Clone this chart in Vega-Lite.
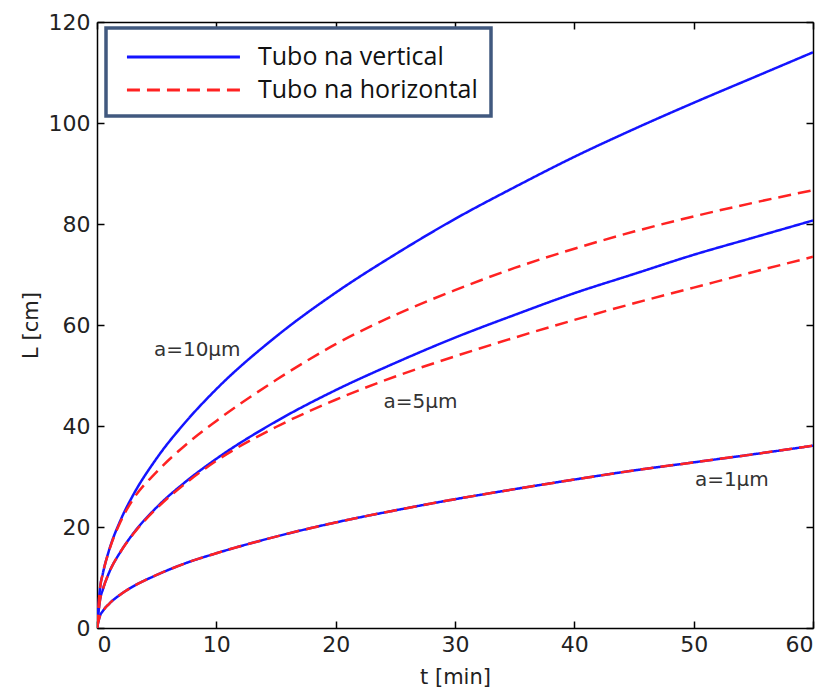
{
  "$schema": "https://vega.github.io/schema/vega-lite/v6.json",
  "width": 716,
  "height": 606,
  "autosize": {"type": "none"},
  "padding": {"left": 97, "top": 22, "right": 18, "bottom": 64},
  "background": "white",
  "config": {
    "view": {"stroke": null},
    "axis": {
      "grid": false,
      "domainColor": "#000000",
      "domainWidth": 1.5,
      "tickColor": "#000000",
      "tickWidth": 1.5,
      "tickSize": -7,
      "labelFont": "DejaVu Sans",
      "labelFontSize": 22,
      "labelColor": "#222222",
      "titleFont": "DejaVu Sans",
      "titleFontSize": 21,
      "titleFontWeight": "normal",
      "titleColor": "#222222"
    },
    "legend": {
      "strokeColor": "#41597f",
      "strokeWidth": 3.5,
      "fillColor": "white"
    }
  },
  "layer": [
    {
      "data": {
        "values": [
          {"t": 0, "L": 0, "tubo": "Tubo na vertical", "a": "10"},
          {"t": 0.25, "L": 7.8, "tubo": "Tubo na vertical", "a": "10"},
          {"t": 0.5, "L": 10.9, "tubo": "Tubo na vertical", "a": "10"},
          {"t": 1, "L": 15.3, "tubo": "Tubo na vertical", "a": "10"},
          {"t": 2, "L": 21.5, "tubo": "Tubo na vertical", "a": "10"},
          {"t": 3, "L": 26.2, "tubo": "Tubo na vertical", "a": "10"},
          {"t": 5, "L": 33.6, "tubo": "Tubo na vertical", "a": "10"},
          {"t": 7.5, "L": 41, "tubo": "Tubo na vertical", "a": "10"},
          {"t": 10, "L": 47.3, "tubo": "Tubo na vertical", "a": "10"},
          {"t": 15, "L": 57.7, "tubo": "Tubo na vertical", "a": "10"},
          {"t": 20, "L": 66.4, "tubo": "Tubo na vertical", "a": "10"},
          {"t": 25, "L": 74, "tubo": "Tubo na vertical", "a": "10"},
          {"t": 30, "L": 81, "tubo": "Tubo na vertical", "a": "10"},
          {"t": 35, "L": 87.3, "tubo": "Tubo na vertical", "a": "10"},
          {"t": 40, "L": 93.3, "tubo": "Tubo na vertical", "a": "10"},
          {"t": 45, "L": 98.8, "tubo": "Tubo na vertical", "a": "10"},
          {"t": 50, "L": 104, "tubo": "Tubo na vertical", "a": "10"},
          {"t": 55, "L": 109, "tubo": "Tubo na vertical", "a": "10"},
          {"t": 60, "L": 114, "tubo": "Tubo na vertical", "a": "10"},

          {"t": 0, "L": 0, "tubo": "Tubo na vertical", "a": "5"},
          {"t": 0.25, "L": 5.5, "tubo": "Tubo na vertical", "a": "5"},
          {"t": 0.5, "L": 7.7, "tubo": "Tubo na vertical", "a": "5"},
          {"t": 1, "L": 10.9, "tubo": "Tubo na vertical", "a": "5"},
          {"t": 2, "L": 15.2, "tubo": "Tubo na vertical", "a": "5"},
          {"t": 3, "L": 18.6, "tubo": "Tubo na vertical", "a": "5"},
          {"t": 5, "L": 23.9, "tubo": "Tubo na vertical", "a": "5"},
          {"t": 7.5, "L": 29.1, "tubo": "Tubo na vertical", "a": "5"},
          {"t": 10, "L": 33.5, "tubo": "Tubo na vertical", "a": "5"},
          {"t": 15, "L": 40.9, "tubo": "Tubo na vertical", "a": "5"},
          {"t": 20, "L": 47.1, "tubo": "Tubo na vertical", "a": "5"},
          {"t": 25, "L": 52.5, "tubo": "Tubo na vertical", "a": "5"},
          {"t": 30, "L": 57.5, "tubo": "Tubo na vertical", "a": "5"},
          {"t": 35, "L": 62, "tubo": "Tubo na vertical", "a": "5"},
          {"t": 40, "L": 66.3, "tubo": "Tubo na vertical", "a": "5"},
          {"t": 45, "L": 70.1, "tubo": "Tubo na vertical", "a": "5"},
          {"t": 50, "L": 73.9, "tubo": "Tubo na vertical", "a": "5"},
          {"t": 55, "L": 77.3, "tubo": "Tubo na vertical", "a": "5"},
          {"t": 60, "L": 80.7, "tubo": "Tubo na vertical", "a": "5"},

          {"t": 0, "L": 0, "tubo": "Tubo na vertical", "a": "1"},
          {"t": 0.25, "L": 2.4, "tubo": "Tubo na vertical", "a": "1"},
          {"t": 0.5, "L": 3.4, "tubo": "Tubo na vertical", "a": "1"},
          {"t": 1, "L": 4.75, "tubo": "Tubo na vertical", "a": "1"},
          {"t": 2, "L": 6.7, "tubo": "Tubo na vertical", "a": "1"},
          {"t": 3, "L": 8.2, "tubo": "Tubo na vertical", "a": "1"},
          {"t": 5, "L": 10.5, "tubo": "Tubo na vertical", "a": "1"},
          {"t": 7.5, "L": 12.9, "tubo": "Tubo na vertical", "a": "1"},
          {"t": 10, "L": 14.8, "tubo": "Tubo na vertical", "a": "1"},
          {"t": 15, "L": 18.1, "tubo": "Tubo na vertical", "a": "1"},
          {"t": 20, "L": 20.9, "tubo": "Tubo na vertical", "a": "1"},
          {"t": 25, "L": 23.3, "tubo": "Tubo na vertical", "a": "1"},
          {"t": 30, "L": 25.5, "tubo": "Tubo na vertical", "a": "1"},
          {"t": 35, "L": 27.5, "tubo": "Tubo na vertical", "a": "1"},
          {"t": 40, "L": 29.4, "tubo": "Tubo na vertical", "a": "1"},
          {"t": 45, "L": 31.2, "tubo": "Tubo na vertical", "a": "1"},
          {"t": 50, "L": 32.8, "tubo": "Tubo na vertical", "a": "1"},
          {"t": 55, "L": 34.4, "tubo": "Tubo na vertical", "a": "1"},
          {"t": 60, "L": 36.1, "tubo": "Tubo na vertical", "a": "1"},

          {"t": 0, "L": 0, "tubo": "Tubo na horizontal", "a": "10"},
          {"t": 0.25, "L": 7.8, "tubo": "Tubo na horizontal", "a": "10"},
          {"t": 0.5, "L": 10.9, "tubo": "Tubo na horizontal", "a": "10"},
          {"t": 1, "L": 15.2, "tubo": "Tubo na horizontal", "a": "10"},
          {"t": 2, "L": 21.2, "tubo": "Tubo na horizontal", "a": "10"},
          {"t": 3, "L": 25.4, "tubo": "Tubo na horizontal", "a": "10"},
          {"t": 5, "L": 30.9, "tubo": "Tubo na horizontal", "a": "10"},
          {"t": 7.5, "L": 36.4, "tubo": "Tubo na horizontal", "a": "10"},
          {"t": 10, "L": 41, "tubo": "Tubo na horizontal", "a": "10"},
          {"t": 15, "L": 49.1, "tubo": "Tubo na horizontal", "a": "10"},
          {"t": 20, "L": 56.2, "tubo": "Tubo na horizontal", "a": "10"},
          {"t": 25, "L": 62, "tubo": "Tubo na horizontal", "a": "10"},
          {"t": 30, "L": 66.9, "tubo": "Tubo na horizontal", "a": "10"},
          {"t": 35, "L": 71.3, "tubo": "Tubo na horizontal", "a": "10"},
          {"t": 40, "L": 75.1, "tubo": "Tubo na horizontal", "a": "10"},
          {"t": 45, "L": 78.5, "tubo": "Tubo na horizontal", "a": "10"},
          {"t": 50, "L": 81.5, "tubo": "Tubo na horizontal", "a": "10"},
          {"t": 55, "L": 84.2, "tubo": "Tubo na horizontal", "a": "10"},
          {"t": 60, "L": 86.7, "tubo": "Tubo na horizontal", "a": "10"},

          {"t": 0, "L": 0, "tubo": "Tubo na horizontal", "a": "5"},
          {"t": 0.25, "L": 5.5, "tubo": "Tubo na horizontal", "a": "5"},
          {"t": 0.5, "L": 7.7, "tubo": "Tubo na horizontal", "a": "5"},
          {"t": 1, "L": 10.9, "tubo": "Tubo na horizontal", "a": "5"},
          {"t": 2, "L": 15.2, "tubo": "Tubo na horizontal", "a": "5"},
          {"t": 3, "L": 18.5, "tubo": "Tubo na horizontal", "a": "5"},
          {"t": 5, "L": 23.7, "tubo": "Tubo na horizontal", "a": "5"},
          {"t": 7.5, "L": 28.8, "tubo": "Tubo na horizontal", "a": "5"},
          {"t": 10, "L": 33.1, "tubo": "Tubo na horizontal", "a": "5"},
          {"t": 15, "L": 39.8, "tubo": "Tubo na horizontal", "a": "5"},
          {"t": 20, "L": 45.2, "tubo": "Tubo na horizontal", "a": "5"},
          {"t": 25, "L": 49.8, "tubo": "Tubo na horizontal", "a": "5"},
          {"t": 30, "L": 53.8, "tubo": "Tubo na horizontal", "a": "5"},
          {"t": 35, "L": 57.5, "tubo": "Tubo na horizontal", "a": "5"},
          {"t": 40, "L": 61, "tubo": "Tubo na horizontal", "a": "5"},
          {"t": 45, "L": 64.3, "tubo": "Tubo na horizontal", "a": "5"},
          {"t": 50, "L": 67.4, "tubo": "Tubo na horizontal", "a": "5"},
          {"t": 55, "L": 70.5, "tubo": "Tubo na horizontal", "a": "5"},
          {"t": 60, "L": 73.5, "tubo": "Tubo na horizontal", "a": "5"},

          {"t": 0, "L": 0, "tubo": "Tubo na horizontal", "a": "1"},
          {"t": 0.25, "L": 2.4, "tubo": "Tubo na horizontal", "a": "1"},
          {"t": 0.5, "L": 3.4, "tubo": "Tubo na horizontal", "a": "1"},
          {"t": 1, "L": 4.75, "tubo": "Tubo na horizontal", "a": "1"},
          {"t": 2, "L": 6.7, "tubo": "Tubo na horizontal", "a": "1"},
          {"t": 3, "L": 8.2, "tubo": "Tubo na horizontal", "a": "1"},
          {"t": 5, "L": 10.5, "tubo": "Tubo na horizontal", "a": "1"},
          {"t": 7.5, "L": 12.9, "tubo": "Tubo na horizontal", "a": "1"},
          {"t": 10, "L": 14.8, "tubo": "Tubo na horizontal", "a": "1"},
          {"t": 15, "L": 18.1, "tubo": "Tubo na horizontal", "a": "1"},
          {"t": 20, "L": 20.9, "tubo": "Tubo na horizontal", "a": "1"},
          {"t": 25, "L": 23.3, "tubo": "Tubo na horizontal", "a": "1"},
          {"t": 30, "L": 25.5, "tubo": "Tubo na horizontal", "a": "1"},
          {"t": 35, "L": 27.5, "tubo": "Tubo na horizontal", "a": "1"},
          {"t": 40, "L": 29.4, "tubo": "Tubo na horizontal", "a": "1"},
          {"t": 45, "L": 31.2, "tubo": "Tubo na horizontal", "a": "1"},
          {"t": 50, "L": 32.8, "tubo": "Tubo na horizontal", "a": "1"},
          {"t": 55, "L": 34.4, "tubo": "Tubo na horizontal", "a": "1"},
          {"t": 60, "L": 36.1, "tubo": "Tubo na horizontal", "a": "1"}
        ]
      },
      "mark": {"type": "line", "strokeWidth": 2.5, "interpolate": "monotone", "clip": true},
      "encoding": {
        "x": {
          "field": "t", "type": "quantitative",
          "scale": {"domain": [0, 60], "nice": false, "zero": true},
          "axis": {"orient": "bottom", "values": [0, 10, 20, 30, 40, 50, 60], "title": "t [min]", "labelPadding": 13, "titlePadding": 11}
        },
        "y": {
          "field": "L", "type": "quantitative",
          "scale": {"domain": [0, 120], "nice": false},
          "axis": {"orient": "left", "values": [0, 20, 40, 60, 80, 100, 120], "title": "L [cm]", "labelPadding": 14, "titlePadding": 7}
        },
        "color": {
          "field": "tubo", "type": "nominal",
          "scale": {"domain": ["Tubo na vertical", "Tubo na horizontal"], "range": ["#1414ff", "#ff2222"]},
          "legend": {
            "title": null, "orient": "none", "legendX": 9, "legendY": 6,
            "symbolType": "M-0.57,0H7.43", "symbolSize": 798, "symbolStrokeWidth": 3,
            "labelFont": "Open Sans", "labelFontSize": 25, "labelColor": "#111111", "labelLimit": 600,
            "padding": 13, "rowPadding": 4, "labelOffset": 107
          }
        },
        "strokeDash": {
          "field": "tubo", "type": "nominal",
          "scale": {"domain": ["Tubo na vertical", "Tubo na horizontal"], "range": [[1, 0], [13, 7]]},
          "legend": {
            "title": null, "orient": "none", "legendX": 9, "legendY": 6,
            "symbolType": "M-0.57,0H7.43", "symbolSize": 798, "symbolStrokeWidth": 3,
            "labelFont": "Open Sans", "labelFontSize": 25, "labelColor": "#111111", "labelLimit": 600,
            "padding": 13, "rowPadding": 4, "labelOffset": 107
          }
        },
        "detail": {"field": "a", "type": "nominal"}
      }
    },
    {
      "data": {
        "values": [
          {"t": 8.4, "L": 55, "label": "a=10μm"},
          {"t": 27.1, "L": 44.8, "label": "a=5μm"},
          {"t": 53.2, "L": 29.3, "label": "a=1μm"}
        ]
      },
      "mark": {"type": "text", "font": "DejaVu Sans", "fontSize": 20, "color": "#333333", "align": "center", "baseline": "middle"},
      "encoding": {
        "x": {
          "field": "t", "type": "quantitative",
          "scale": {"domain": [0, 60], "nice": false},
          "axis": {"orient": "top", "values": [0, 10, 20, 30, 40, 50, 60], "labels": false, "title": null}
        },
        "y": {
          "field": "L", "type": "quantitative",
          "scale": {"domain": [0, 120], "nice": false},
          "axis": {"orient": "right", "values": [0, 20, 40, 60, 80, 100, 120], "labels": false, "title": null}
        },
        "text": {"field": "label", "type": "nominal"}
      }
    }
  ],
  "resolve": {"scale": {"x": "independent", "y": "independent"}}
}
